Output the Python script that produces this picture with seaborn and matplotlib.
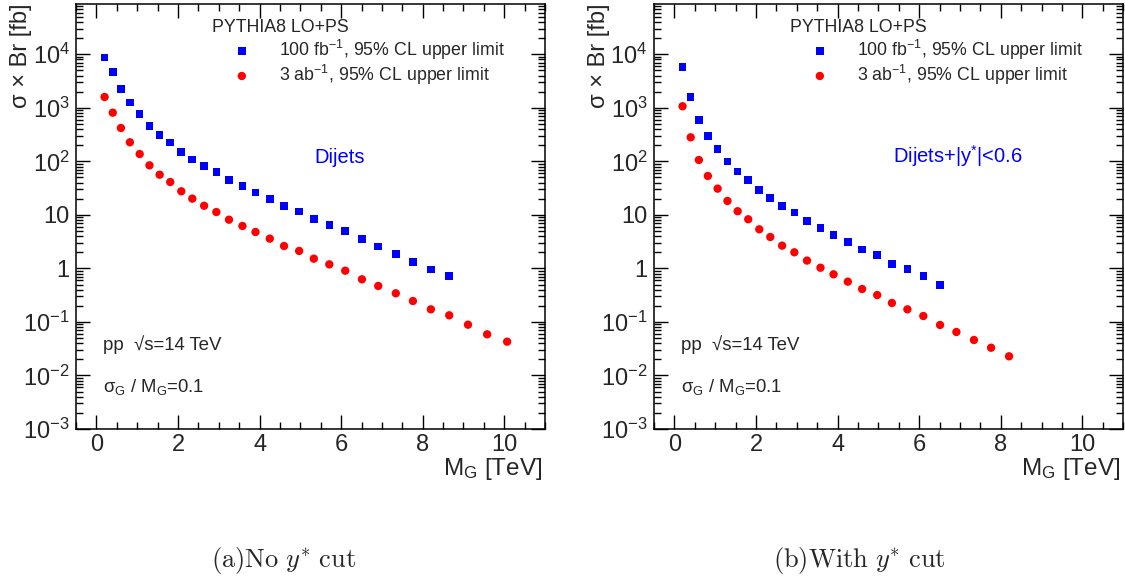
import math
import matplotlib
matplotlib.use("Agg")
import matplotlib.pyplot as plt
import matplotlib.ticker as mticker
import pandas as pd
import seaborn as sns

# Graviton mass points [TeV]
mass = [0.2, 0.4, 0.6, 0.82, 1.06, 1.3, 1.55, 1.81, 2.08, 2.35, 2.64, 2.94, 3.25, 3.58,
        3.9, 4.25, 4.6, 4.97, 5.33, 5.71, 6.1, 6.51, 6.91, 7.34, 7.76, 8.2, 8.65, 9.11,
        9.58, 10.07]

# (a) no y* cut, sigma x Br [fb]
limit_100fb_a = [8700, 4610, 2275, 1247, 757, 458, 307, 223, 150, 109, 80.8, 62.5, 44.9,
                 34.2, 26.0, 19.7, 14.5, 11.5, 8.3, 6.4, 5.0, 3.5, 2.55, 1.86, 1.33, 0.95,
                 0.72]
limit_3ab_a = [1593, 811, 420, 227, 137, 84.3, 56.3, 41.1, 27.6, 20.1, 14.8, 11.3, 8.13,
               6.2, 4.79, 3.6, 2.62, 2.12, 1.52, 1.19, 0.906, 0.626, 0.47, 0.343, 0.246,
               0.172, 0.133, 0.0888, 0.0587, 0.0428]

# (b) with |y*|<0.6 cut
limit_100fb_b = [5860, 1575, 593, 294, 170, 98.6, 64.1, 44.9, 29.2, 20.7, 14.5, 11.0, 7.69,
                 5.69, 4.16, 3.08, 2.24, 1.76, 1.22, 0.963, 0.713, 0.49]
limit_3ab_b = [1069, 281, 106, 53.3, 30.9, 18.2, 11.7, 8.28, 5.38, 3.86, 2.66, 2.0, 1.40,
               1.03, 0.776, 0.566, 0.412, 0.318, 0.226, 0.172, 0.129, 0.0877, 0.0649,
               0.046, 0.033, 0.0228]

channel_labels = ["Dijets", "Dijets+|y$^{*}$|<0.6"]
captions = [r"$\mathrm{(a)No}\ y^{*}\ \mathrm{cut}$", r"$\mathrm{(b)With}\ y^{*}\ \mathrm{cut}$"]

sns.set_style("ticks")
plt.rcParams["font.family"] = ["Liberation Sans", "DejaVu Sans"]
plt.rcParams["mathtext.fontset"] = "custom"
plt.rcParams["mathtext.rm"] = "Liberation Sans"
plt.rcParams["mathtext.it"] = "Liberation Sans:italic"
plt.rcParams["mathtext.bf"] = "Liberation Sans:bold"
plt.rcParams["mathtext.sf"] = "Liberation Sans"


def log_label(v, pos):
    if abs(v - 1) < 1e-9:
        return "1"
    if abs(v - 10) < 1e-9:
        return "10"
    return r"$10^{%d}$" % round(math.log10(v))


fig = plt.figure(figsize=(11.25, 5.77), dpi=100)
axes = [fig.add_axes([0.0676, 0.2565, 0.4169, 0.7366]),
        fig.add_axes([0.5813, 0.2565, 0.4172, 0.7366])]

panels = [(limit_100fb_a, limit_3ab_a), (limit_100fb_b, limit_3ab_b)]
caption_x = [0.2516, 0.7636]
channel_x = [0.563, 0.648]

for i, ax in enumerate(axes):
    blue, red = panels[i]
    df_b = pd.DataFrame({"m": mass[:len(blue)], "xs": blue})
    df_r = pd.DataFrame({"m": mass[:len(red)], "xs": red})
    sns.scatterplot(data=df_b, x="m", y="xs", marker="s", color="#0000ff", s=30,
                    edgecolor="none", ax=ax, label="100 fb$^{-1}$, 95% CL upper limit",
                    zorder=3)
    sns.scatterplot(data=df_r, x="m", y="xs", marker="o", color="#ff0000", s=36,
                    edgecolor="none", ax=ax, label="3 ab$^{-1}$, 95% CL upper limit",
                    zorder=3)
    ax.set_yscale("log")
    ax.set_xlim(-0.5, 11)
    ax.set_ylim(1e-3, 8.7e4)
    ax.yaxis.set_major_locator(mticker.LogLocator(base=10, numticks=20))
    ax.yaxis.set_minor_locator(mticker.LogLocator(base=10, subs=range(2, 10), numticks=20))
    ax.yaxis.set_major_formatter(mticker.FuncFormatter(log_label))
    ax.yaxis.set_minor_formatter(mticker.NullFormatter())
    ax.xaxis.set_major_locator(mticker.MultipleLocator(2))
    ax.xaxis.set_minor_locator(mticker.MultipleLocator(0.5))

    ax.tick_params(which="both", direction="in", top=True, right=True, width=1,
                   labelsize=17, color="black")
    ax.tick_params(which="major", length=10)
    ax.tick_params(axis="y", which="major", pad=4.5)
    ax.tick_params(axis="x", which="major", pad=3.5)
    ax.tick_params(which="minor", length=5)
    for sp in ax.spines.values():
        sp.set_linewidth(1.1)
        sp.set_color("black")

    ax.set_xlabel("M$_{\\mathrm{G}}$ [TeV]", loc="right", fontsize=17.5)
    ax.xaxis.set_label_coords(0.9935, -0.064)
    ax.set_ylabel("σ × Br [fb]", loc="top", fontsize=17)
    ax.yaxis.set_label_coords(-0.094, 1.0)

    ax.text(0.289, 0.933, "PYTHIA8 LO+PS", transform=ax.transAxes, ha="left",
            va="baseline", fontsize=12.8)
    ax.legend(loc="upper left", bbox_to_anchor=(0.289, 0.921), frameon=False,
              fontsize=12.8, handlelength=3.4, handletextpad=0.4, borderaxespad=0,
              borderpad=0, labelspacing=0.05)

    ax.text(channel_x[i], 0.626, channel_labels[i], transform=ax.transAxes,
            ha="center", va="baseline", color="#0000ff", fontsize=14.5)
    ax.text(0.058, 0.186, "pp  √s=14 TeV", transform=ax.transAxes, ha="left",
            va="baseline", fontsize=13.4)
    ax.text(0.058, 0.088, "σ$_{\\mathrm{G}}$ / M$_{\\mathrm{G}}$=0.1", transform=ax.transAxes,
            ha="left", va="baseline", fontsize=13.3)

    fig.text(caption_x[i], 1 - 560 / 577, captions[i], ha="center", va="center",
             fontsize=19, math_fontfamily="cm")

fig.savefig("out.png", dpi=100)
